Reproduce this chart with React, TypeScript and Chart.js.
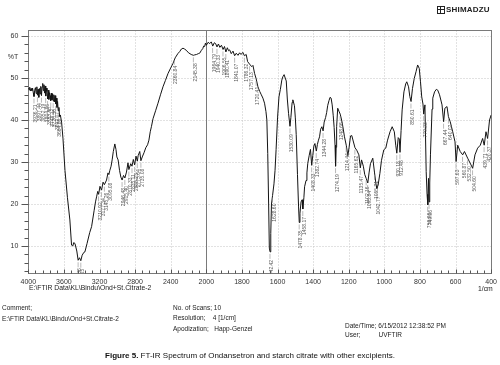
import React, { useEffect, useRef } from "react";
import { Chart, registerables } from "chart.js";

Chart.register(...registerables);

// Wavenumber (1/cm) and transmittance (%T)
const WAVENUMBER = [
  4000, 3992, 3984, 3976, 3968, 3960, 3952, 3944, 3936, 3928,
  3920, 3912, 3904, 3897, 3890, 3882, 3875, 3868, 3860, 3852,
  3845, 3838, 3831, 3824, 3817, 3810, 3804, 3797, 3790, 3783,
  3776, 3769, 3762, 3755, 3748, 3741, 3734, 3727, 3720, 3713,
  3706, 3699, 3692, 3685, 3678, 3671, 3664, 3656, 3648, 3640,
  3626, 3610, 3588, 3560, 3533, 3514, 3500, 3490, 3476, 3455,
  3440, 3425, 3410, 3395, 3375, 3364, 3340, 3310, 3289, 3260,
  3245, 3233, 3220, 3210, 3195, 3177, 3160, 3145, 3121, 3105,
  3095, 3084, 3070, 3058, 3045, 3028, 3015, 3005, 2991, 2975,
  2960, 2946, 2930, 2915, 2897, 2880, 2870, 2849, 2835, 2820,
  2805, 2790, 2775, 2766, 2748, 2735, 2720, 2700, 2680, 2660,
  2645, 2630, 2617, 2599, 2570, 2543, 2515, 2487, 2460, 2430,
  2400, 2374, 2350, 2320, 2299, 2280, 2262, 2245, 2225, 2200,
  2170, 2145, 2131, 2110, 2090, 2075, 2055, 2040, 2030, 2019,
  2010, 2000, 1990, 1981, 1972, 1964, 1955, 1948, 1940, 1932,
  1924, 1915, 1906, 1898, 1890, 1882, 1875, 1869, 1860, 1850,
  1841, 1832, 1822, 1813, 1805, 1795, 1786, 1776, 1768, 1757,
  1745, 1738, 1729, 1720, 1710, 1700, 1691, 1682, 1673, 1665,
  1660, 1655, 1650, 1646, 1642, 1638, 1634, 1628, 1620, 1614,
  1608, 1600, 1592, 1584, 1576, 1570, 1563, 1557, 1551, 1545,
  1538, 1530, 1525, 1518, 1514, 1505, 1500, 1495, 1488, 1482,
  1478, 1474, 1468, 1462, 1458, 1452, 1448, 1440, 1435, 1430,
  1422, 1415, 1408, 1402, 1396, 1390, 1382, 1376, 1370, 1364,
  1358, 1351, 1344, 1338, 1330, 1324, 1318, 1311, 1305, 1299,
  1293, 1287, 1282, 1277, 1274, 1271, 1268, 1262, 1255, 1248,
  1240, 1233, 1224, 1214, 1205, 1198, 1190, 1183, 1175, 1165,
  1155, 1143, 1135, 1128, 1118, 1110, 1102, 1093, 1086, 1078,
  1065, 1055, 1046, 1042, 1035, 1025, 1016, 1003, 992, 982,
  968, 956, 944, 936, 930, 922, 916, 912, 906, 900,
  890, 880, 874, 864, 857, 850, 842, 832, 822, 813,
  804, 797, 790, 783, 779, 772, 765, 760, 756, 752,
  749, 745, 741, 732, 728, 718, 708, 700, 690, 680,
  676, 667, 660, 648, 640, 630, 616, 603, 597, 588,
  574, 560, 550, 532, 513, 504, 491, 476, 461, 448,
  439, 429, 420, 409, 400,
];

const TRANSMITTANCE = [
  47.6, 47.2, 47.8, 46.9, 47.5, 47.0, 47.6, 46.5, 45.6, 47.1,
  47.7, 46.3, 47.9, 45.9, 47.3, 45.4, 47.5, 46.2, 48.0, 45.8,
  47.9, 48.7, 47.0, 48.4, 46.4, 48.1, 45.7, 47.6, 46.8, 45.0,
  47.1, 44.9, 46.5, 45.8, 44.6, 46.4, 44.8, 46.2, 44.5, 46.0,
  44.3, 45.8, 43.8, 45.2, 43.0, 44.4, 42.2, 43.0, 40.8, 41.2,
  39.5, 35.5, 28.0, 21.5, 16.2, 10.2, 10.0, 10.8, 10.6, 8.8,
  6.6, 7.2, 6.5, 7.8, 8.5, 8.6, 10.6, 13.2, 14.6, 18.5,
  20.5, 21.7, 23.0, 22.3, 24.2, 23.3, 25.2, 24.6, 25.7, 27.4,
  27.0, 28.0, 29.0, 30.5, 32.5, 34.3, 33.0, 31.2, 30.5, 28.0,
  26.4, 25.7, 26.8, 26.2, 27.6, 29.8, 28.2, 29.6, 29.0, 30.6,
  29.3, 31.4, 30.2, 31.5, 32.5, 30.3, 31.2, 32.2, 33.4, 34.1,
  35.2, 37.2, 38.4, 40.3, 42.2, 44.0, 46.0, 47.9, 49.4, 51.1,
  52.4, 53.5, 54.8, 55.8, 56.3, 56.9, 57.1, 56.9, 56.6, 56.0,
  55.6, 55.4, 55.5, 55.6, 55.8, 55.9, 56.6, 57.0, 57.6, 57.5,
  58.3, 57.8, 58.5, 58.2, 58.6, 57.6, 58.4, 58.2, 57.4, 58.1,
  57.3, 57.8, 56.8, 57.5, 56.2, 57.2, 56.5, 56.7, 55.8, 56.4,
  55.3, 55.9, 55.4, 56.0, 55.6, 56.1, 55.3, 55.6, 53.9, 53.3,
  52.7, 53.0, 51.1, 49.8, 47.9, 46.8, 46.0, 45.2, 44.0, 42.0,
  40.0, 32.0, 20.0, 9.5, 8.6, 13.0, 20.0, 22.0, 24.8, 28.0,
  33.0, 40.5, 45.5, 47.3, 49.5, 50.3, 50.8, 50.0, 49.3, 45.0,
  41.5, 38.5, 40.6, 44.2, 44.8, 43.4, 40.5, 36.5, 27.0, 19.5,
  15.6, 17.8, 20.5, 21.0, 18.8, 21.5, 24.1, 25.6, 27.4, 29.7,
  31.6, 33.0, 29.2, 31.5, 33.8, 34.4, 32.6, 34.2, 35.2, 36.0,
  37.8, 38.4, 37.4, 39.5, 40.6, 41.8, 43.5, 44.6, 45.4, 45.2,
  43.6, 41.0, 38.2, 34.0, 29.0, 33.5, 38.4, 42.8, 42.1, 41.4,
  40.0, 38.4, 36.0, 34.0, 31.5, 33.5, 36.2, 36.3, 35.0, 33.4,
  32.8, 31.7, 28.6, 30.5, 29.0, 27.0, 26.1, 25.0, 27.4, 29.6,
  30.9, 27.4, 24.4, 23.7, 24.5, 27.3, 30.4, 32.9, 33.3, 35.2,
  37.2, 38.4, 37.2, 34.0, 32.1, 35.8, 35.5, 32.3, 37.5, 42.4,
  46.7, 48.6, 49.1, 47.9, 45.6, 44.4, 47.5, 49.9, 51.5, 53.1,
  52.3, 49.1, 45.5, 43.8, 41.4, 43.6, 27.7, 22.3, 19.8, 26.1,
  20.5, 25.0, 31.7, 42.6, 45.2, 46.7, 47.3, 47.1, 46.0, 44.3,
  43.6, 39.6, 42.8, 43.2, 40.8, 39.6, 37.2, 34.8, 30.1, 34.0,
  32.5, 31.7, 32.5, 30.9, 29.3, 28.5, 31.7, 33.3, 34.0, 35.6,
  34.0, 37.2, 35.6, 40.0, 41.2,
];

const X_TICK_WAVENUMBERS = [4000, 3600, 3200, 2800, 2400, 2000, 1800, 1600, 1400, 1200, 1000, 800, 600, 400];
const Y_TICKS = [10, 20, 30, 40, 50, 60];
const Y_UNIT = "%T";
const Y_UNIT_AT = 55;
const X_UNIT = "1/cm";

const PEAK_WAVENUMBERS = [
  3936.21, 3897.44, 3852.19, 3804.86, 3783.40, 3748.12, 3720.56, 3692.07, 3664.88,
  3440.36, 3410.15, 3210.92, 3177.34, 3145.26, 3095.08, 2946.48, 2915.40, 2870.33,
  2835.11, 2805.23, 2775.64, 2735.08, 2360.84, 2145.38, 1964.79, 1940.33, 1906.55,
  1890.41, 1841.07, 1786.32, 1757.13, 1720.41, 1642.42, 1628.60, 1530.09, 1478.35,
  1458.17, 1408.33, 1382.74, 1344.28, 1274.19, 1248.66, 1214.44, 1165.62, 1135.47,
  1102.16, 1093.84, 1042.77, 1055.21, 930.18, 912.48, 850.61, 779.23, 756.96, 749.06,
  667.44, 640.02, 597.63, 560.87, 532.50, 504.60, 439.71, 420.37,
];

const FONT = "'Liberation Sans', Arial, Helvetica, sans-serif";

// Instrument printout: 4000-2000 is drawn at half the scale of 2000-400
const toAxis = (w: number) => (w > 2000 ? 2000 + (w - 2000) / 2 : w);
const fromAxis = (u: number) => (u > 2000 ? 2000 + (u - 2000) * 2 : u);

export default function App() {
  const ref = useRef<HTMLCanvasElement>(null);

  useEffect(() => {
    const canvas = ref.current;
    if (!canvas) return;
    const points = WAVENUMBER.map((w, i) => ({ x: toAxis(w), y: TRANSMITTANCE[i] }));

    const framePlugin = {
      id: "frame",
      beforeDatasetsDraw(chart: any) {
        const { ctx, chartArea: a, scales } = chart;
        const xs = scales.x;
        const ys = scales.y;
        const L = Math.round(a.left) + 0.5;
        const R = Math.round(a.right) + 0.5;
        const T = Math.round(a.top) + 0.5;
        const B = Math.round(a.bottom) + 0.5;
        ctx.save();
        ctx.lineWidth = 1;
        ctx.strokeStyle = "#c4c4c4";
        ctx.setLineDash([1, 2]);
        for (const w of X_TICK_WAVENUMBERS) {
          if (w === 4000 || w === 400 || w === 2000) continue;
          const px = Math.round(xs.getPixelForValue(toAxis(w))) + 0.5;
          ctx.beginPath();
          ctx.moveTo(px, T);
          ctx.lineTo(px, B);
          ctx.stroke();
        }
        for (const v of Y_TICKS) {
          const py = Math.round(ys.getPixelForValue(v)) + 0.5;
          ctx.beginPath();
          ctx.moveTo(L, py);
          ctx.lineTo(R, py);
          ctx.stroke();
        }
        ctx.setLineDash([]);
        ctx.strokeStyle = "#7a7a7a";
        const p2000 = Math.round(xs.getPixelForValue(2000)) + 0.5;
        ctx.beginPath();
        ctx.moveTo(p2000, T);
        ctx.lineTo(p2000, B);
        ctx.stroke();
        ctx.strokeRect(L, T, R - L, B - T);
        // y ticks (outside, to the left)
        ctx.strokeStyle = "#555";
        for (let v = Math.ceil(ys.min / 2) * 2; v <= ys.max; v += 2) {
          const py = Math.round(ys.getPixelForValue(v)) + 0.5;
          const len = v % 10 === 0 ? 7 : 4;
          ctx.beginPath();
          ctx.moveTo(L - len, py);
          ctx.lineTo(L, py);
          ctx.stroke();
        }
        // x ticks (inside, upward from the bottom)
        for (let u = 400; u <= 3000; u += 40) {
          const px = Math.round(xs.getPixelForValue(u)) + 0.5;
          const len = u % 200 === 0 ? 4 : 3;
          ctx.beginPath();
          ctx.moveTo(px, B);
          ctx.lineTo(px, B - len);
          ctx.stroke();
        }
        ctx.restore();
      },
    };

    const peakPlugin = {
      id: "peaks",
      afterDatasetsDraw(chart: any) {
        const { ctx, chartArea: a, scales } = chart;
        const xs = scales.x;
        const ys = scales.y;
        ctx.save();
        ctx.beginPath();
        ctx.rect(a.left, a.top, a.right - a.left, a.bottom - a.top);
        ctx.clip();
        ctx.font = `5px ${FONT}`;
        ctx.fillStyle = "#5a5a5a";
        ctx.strokeStyle = "#8a8a8a";
        ctx.lineWidth = 0.6;
        for (const w of PEAK_WAVENUMBERS) {
          let bi = 0;
          for (let i = 1; i < WAVENUMBER.length; i++) {
            if (Math.abs(WAVENUMBER[i] - w) < Math.abs(WAVENUMBER[bi] - w)) bi = i;
          }
          const px = xs.getPixelForValue(toAxis(w));
          const py = ys.getPixelForValue(TRANSMITTANCE[bi]);
          ctx.beginPath();
          ctx.moveTo(px, py + 2);
          ctx.lineTo(px, py + 7);
          ctx.stroke();
          ctx.save();
          ctx.translate(px + 1.8, py + 8);
          ctx.rotate(-Math.PI / 2);
          ctx.textAlign = "right";
          ctx.textBaseline = "middle";
          ctx.fillText(w.toFixed(2), 0, 0);
          ctx.restore();
        }
        ctx.restore();
      },
    };

    const chart = new Chart(canvas, {
      type: "line",
      data: {
        datasets: [
          {
            data: points,
            borderColor: "#141414",
            borderWidth: 1,
            pointRadius: 0,
            tension: 0,
            fill: false,
          },
        ],
      },
      options: {
        animation: false,
        responsive: false,
        maintainAspectRatio: false,
        events: [],
        layout: { padding: { top: 30, right: 8.3, left: 0, bottom: 0 } },
        plugins: { legend: { display: false }, tooltip: { enabled: false } },
        scales: {
          x: {
            type: "linear",
            reverse: true,
            min: 400,
            max: 3000,
            afterBuildTicks: (s: any) => {
              s.ticks = X_TICK_WAVENUMBERS.map((w) => ({ value: toAxis(w) }));
            },
            afterFit: (s: any) => {
              s.height = 27.3;
            },
            grid: { display: true, color: "transparent", drawTicks: true, tickLength: 2, tickColor: "transparent" },
            border: { display: false },
            ticks: {
              autoSkip: false,
              maxRotation: 0,
              padding: 3,
              color: "#333",
              font: { family: FONT, size: 7 },
              callback: (v: any) => String(fromAxis(Number(v))),
            },
          },
          y: {
            type: "linear",
            min: 3.64,
            max: 61.43,
            afterBuildTicks: (s: any) => {
              s.ticks = [...Y_TICKS, Y_UNIT_AT].sort((p, q) => p - q).map((v) => ({ value: v }));
            },
            afterFit: (s: any) => {
              s.width = 28.3;
            },
            grid: { display: true, color: "transparent", drawTicks: true, tickLength: 7, tickColor: "transparent" },
            border: { display: false },
            ticks: {
              padding: 3,
              color: "#333",
              font: { family: FONT, size: 7 },
              callback: (v: any) => (Number(v) === Y_UNIT_AT ? Y_UNIT : String(v)),
            },
          },
        },
      },
      plugins: [framePlugin, peakPlugin],
    } as any);

    return () => chart.destroy();
  }, []);

  const txt = (left: number, top: number, size: number, extra: any = {}) => ({
    position: "absolute" as const,
    left,
    top,
    fontSize: size,
    lineHeight: 1,
    whiteSpace: "pre" as const,
    color: "#222",
    ...extra,
  });

  return (
    <div
      style={{
        position: "absolute",
        left: 0,
        top: 0,
        width: 500,
        height: 365,
        background: "#fff",
        fontFamily: FONT,
        overflow: "hidden",
      }}
    >
      <canvas ref={ref} width={500} height={300} style={{ position: "absolute", left: 0, top: 0, width: 500, height: 300 }} />
      <div style={{ position: "absolute", left: 437, top: 6, width: 6, height: 6, border: "1px solid #222" }}>
        <div style={{ position: "absolute", left: 2, top: 0, width: 1, height: 6, background: "#222" }} />
        <div style={{ position: "absolute", left: 0, top: 2, width: 6, height: 1, background: "#222" }} />
      </div>
      <div style={txt(446, 6, 8, { fontWeight: "bold", letterSpacing: 0.2 })}>SHIMADZU</div>
      <div style={txt(29, 285, 6.8)}>E:\FTIR Data\KL\Bindu\Ond+St.Citrate-2</div>
      <div style={txt(478, 286, 6.8)}>{X_UNIT}</div>
      <div style={txt(2, 305, 6.5)}>Comment;</div>
      <div style={txt(2, 316, 6.5)}>E:\FTIR Data\KL\Bindu\Ond+St.Citrate-2</div>
      <div style={txt(173, 305, 6.5)}>No. of Scans; 10</div>
      <div style={txt(173, 315, 6.5)}>Resolution;    4 [1/cm]</div>
      <div style={txt(173, 326, 6.5)}>Apodization;   Happ-Genzel</div>
      <div style={txt(345, 323, 6.5)}>Date/Time; 6/15/2012 12:38:52 PM</div>
      <div style={txt(345, 332, 6.5)}>User;          UVFTIR</div>
      <div style={{ ...txt(0, 352, 8), width: 500, textAlign: "center", color: "#111" }}>
        <b>Figure 5.</b> FT-IR Spectrum of Ondansetron and starch citrate with other excipients.
      </div>
    </div>
  );
}
